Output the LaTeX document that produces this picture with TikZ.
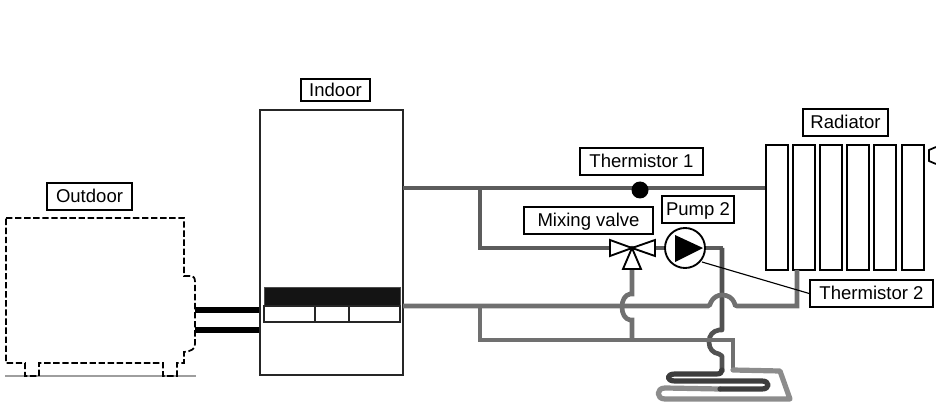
\documentclass[tikz,border=0pt]{standalone}
\usepackage{fontspec}
\setmainfont{Liberation Sans}
\def\U{.75pt}
\tikzset{
  x=.75pt,y=-.75pt,
  lbl/.style={draw=black,line width=1.2pt,fill=white,inner sep=0pt,font=\fontsize{13.9}{14}\selectfont,text height=10pt,text depth=.4pt,align=center},
  pipeA/.style={draw=black!64,line width=3.5pt,line join=miter},
  pipeB/.style={draw=black!56,line width=3.5pt,line join=miter},
  pipeD/.style={draw=black!76,line width=3.9pt,line join=round,line cap=round},
  pipeE/.style={draw=black!45,line width=3.9pt,line join=round,line cap=round},
  panel/.style={draw=black,line width=1.25pt,fill=white,inner sep=0pt,minimum width=22*\U,minimum height=125*\U},
  thin/.style={draw=black,line width=.85pt},
  symb/.style={draw=black,line width=1.4pt,fill=white,line join=miter},
}
\begin{document}
\begin{tikzpicture}
\useasboundingbox (0,0) rectangle (936,406);
% outdoor unit
\draw[draw=black!38,line width=2.2pt] (5,376) coordinate (g1) -- (196,376) coordinate (g2);
\draw[black,line width=1.3pt,dash pattern=on 4.8pt off 2pt]
  (6,218) -- (184,218) -- (184,276) -- (190,276) .. controls (194,276) and (195,278) .. (195,282)
  -- (195,344) .. controls (195,349) and (192,351) .. (184,352) -- (184,363) -- (177,363) -- (177,376) -- (163,376) -- (163,363)
  -- (39,363) -- (39,376) -- (25,376) -- (25,363) -- (6,363) -- cycle;
\coordinate (oA) at (195,310);
\coordinate (oB) at (195,330);
% indoor unit
\node[draw=black!85,line width=1.05pt,fill=white,minimum width=143*\U,minimum height=265*\U,inner sep=0pt] (indoor) at (331.5,242.5) {};
\node[draw=black!70,line width=.6pt,fill=black!92,minimum width=136*\U,minimum height=19*\U,inner sep=0pt] (disp) at (332,296.5) {};
\node[draw=black!85,line width=.9pt,fill=white,minimum width=51*\U,minimum height=16*\U,inner sep=0pt] (c1) at (289.5,314) {};
\node[draw=black!85,line width=.9pt,fill=white,minimum width=34*\U,minimum height=16*\U,inner sep=0pt] (c2) at (332,314) {};
\node[draw=black!85,line width=.9pt,fill=white,minimum width=51*\U,minimum height=16*\U,inner sep=0pt] (c3) at (374.5,314) {};
\draw[black,line width=3.8pt] (oA) -- (oA-|indoor.west);
\draw[black,line width=3.8pt] (oB) -- (oB-|indoor.west);
% radiator
\node[panel] (p1) at (777,207.5) {};
\node[panel] (p2) at (804,207.5) {};
\node[panel] (p3) at (831,207.5) {};
\node[panel] (p4) at (858,207.5) {};
\node[panel] (p5) at (885,207.5) {};
\node[panel] (p6) at (913,207.5) {};
\draw[black,line width=1.3pt] (936,147) -- (929,150) -- (929,161) -- (936,164);
% coordinates of the pipe network
\coordinate (t0) at (403,188);
\coordinate (tJ) at (480,188);
\coordinate (vC) at (632,248);
\coordinate (bJ) at (480,306);
\coordinate (cJ) at (480,340);
% flow pipes
\draw[pipeA] (t0) -- (p1.west|-t0);
\draw[pipeA] (tJ) -- (480,248) -- (vC);
\draw[pipeA] (vC) -- (723,248);
\draw[draw=black!68,line width=3.5pt,line join=round] (722,248) -- (722,330) -- (719,330)
  .. controls (713,331) and (709,335) .. (709,342) .. controls (709,349) and (713,353) .. (719,354) -- (722,356) -- (722,372);
% return pipes
\draw[pipeB] (403,306) -- (bJ) -- (708,306) .. controls (710,306) and (710,304) .. (711,302)
  .. controls (713,298) and (717,295) .. (722,295) .. controls (728,295) and (732,298) .. (734,302) .. controls (735,305) and (735,306) .. (737,306)
  -- (797,306) -- (797,270);
\draw[pipeB] (632,269) -- (632,294) -- (630,294) .. controls (625,295) and (622,300) .. (622,307) .. controls (622,314) and (625,319) .. (630,320) -- (632,320) -- (632,340);
\draw[pipeB] (bJ) -- (cJ) -- (733,340) -- (733,370);
% floor coil
\draw[pipeE] (733,370) -- (780,371) -- (790,399) -- (665,399)
  .. controls (656,399) and (656,388) .. (665,388) -- (720,389);
\draw[pipeD] (720,389) -- (762,389) .. controls (770,389) and (770,381) .. (762,381) -- (675,381)
  .. controls (666,381) and (666,374) .. (675,374) -- (716,374) .. controls (720,374) and (722,373) .. (722,370);
% mixing valve
\node[inner sep=0pt,minimum size=0pt] (valve) at (vC) {};
\draw[symb] (vC) -- (610,240) -- (610,256) -- cycle;
\draw[symb] (vC) -- (655,240) -- (655,256) -- cycle;
\draw[symb] (vC) -- (623,269) -- (641,269) -- cycle;
% pump
\node[circle,draw=black,line width=1.4pt,fill=white,minimum size=40*\U,inner sep=0pt] (pump) at (685,248) {};
\fill[black] (675,235) -- (703,248) -- (675,262) -- cycle;
% thermistor 1 dot
\node[circle,fill=black,minimum size=17*\U,inner sep=0pt] (dot) at (640,190) {};
% labels
\node[lbl,minimum width=85*\U,minimum height=27*\U] (lOut) at (89.5,196.5) {Outdoor};
\node[lbl,minimum width=69*\U,minimum height=22*\U] (lInd) at (335.5,90) {Indoor};
\node[lbl,minimum width=123*\U,minimum height=27*\U] (lT1) at (641.5,161.5) {Thermistor 1};
\node[lbl,minimum width=129*\U,minimum height=27*\U] (lMV) at (588.5,220.5) {Mixing valve};
\node[lbl,minimum width=72*\U,minimum height=27*\U] (lP2) at (698,209.5) {Pump 2};
\node[lbl,minimum width=85*\U,minimum height=27*\U] (lRad) at (845.5,122.5) {Radiator};
\node[lbl,minimum width=123*\U,minimum height=27*\U] (lT2) at (871.5,293.5) {Thermistor 2};
\draw[thin] (pump) ++(17,14) -- (lT2.west);
\end{tikzpicture}
\end{document}
